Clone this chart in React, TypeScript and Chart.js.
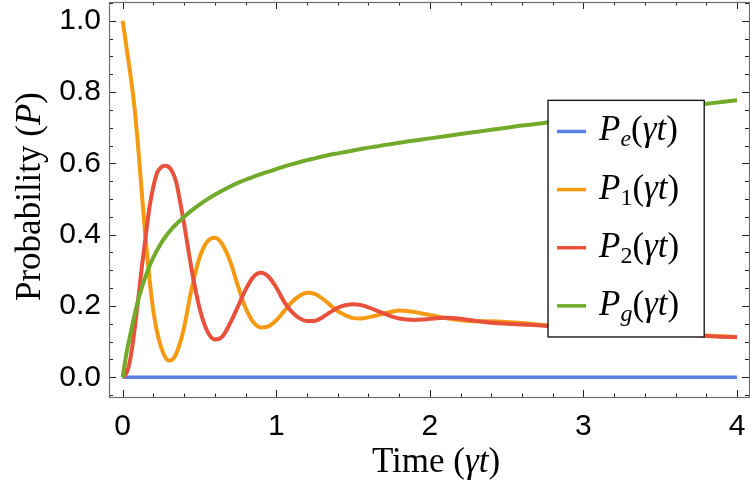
import { useEffect, useRef } from "react"
import { Chart, registerables } from "chart.js"

Chart.register(...registerables)

// time samples (γt) and the probabilities
const times = [
    0, 0.025, 0.05, 0.075, 0.1, 0.125, 0.15, 0.175, 0.2, 0.225, 0.25, 0.275, 0.3, 0.325, 0.35, 0.375, 0.4,
    0.45, 0.5, 0.55, 0.6, 0.65, 0.7, 0.75, 0.8, 0.85, 0.9, 0.95, 1.0,
    1.05, 1.1, 1.15, 1.2, 1.25, 1.3, 1.35, 1.4, 1.45, 1.5,
    1.55, 1.6, 1.65, 1.7, 1.75, 1.8, 1.85, 1.9, 1.95, 2.0,
    2.1, 2.2, 2.3, 2.4, 2.5, 2.6, 2.7, 2.8, 2.9, 3.0,
    3.1, 3.2, 3.3, 3.4, 3.5, 3.6, 3.7, 3.8, 3.9, 4.0,
]
const p1Values = [
    1.0, 0.925, 0.85, 0.765, 0.65, 0.515, 0.385, 0.275, 0.185, 0.125, 0.085, 0.058, 0.047, 0.05, 0.068, 0.098, 0.14,
    0.25, 0.335, 0.38, 0.391, 0.372, 0.325, 0.257, 0.195, 0.155, 0.14, 0.143, 0.16,
    0.185, 0.21, 0.228, 0.237, 0.234, 0.221, 0.203, 0.186, 0.174, 0.166,
    0.165, 0.168, 0.173, 0.179, 0.184, 0.187, 0.186, 0.183, 0.179, 0.175,
    0.166, 0.16, 0.157, 0.157, 0.155, 0.152, 0.148, 0.144, 0.141, 0.138,
    0.135, 0.132, 0.129, 0.127, 0.124, 0.122, 0.12, 0.117, 0.115, 0.113,
]
const p2Values = [
    0, 0.012, 0.052, 0.125, 0.215, 0.31, 0.395, 0.478, 0.535, 0.574, 0.589, 0.593, 0.59, 0.575, 0.545, 0.49, 0.43,
    0.3, 0.195, 0.13, 0.106, 0.115, 0.152, 0.198, 0.245, 0.281, 0.293, 0.282, 0.252,
    0.213, 0.184, 0.166, 0.158, 0.158, 0.168, 0.182, 0.195, 0.202, 0.205,
    0.203, 0.196, 0.188, 0.179, 0.171, 0.165, 0.162, 0.161, 0.162, 0.164,
    0.167, 0.164, 0.158, 0.153, 0.15, 0.148, 0.146, 0.143, 0.14, 0.137,
    0.134, 0.131, 0.128, 0.126, 0.123, 0.121, 0.119, 0.116, 0.114, 0.112,
]
const pgValues = [
    0, 0.068, 0.12, 0.17, 0.215, 0.252, 0.284, 0.312, 0.336, 0.357, 0.376, 0.392, 0.406, 0.419, 0.43, 0.44, 0.45,
    0.468, 0.484, 0.499, 0.512, 0.524, 0.535, 0.545, 0.554, 0.562, 0.57, 0.577, 0.584,
    0.591, 0.597, 0.603, 0.609, 0.614, 0.619, 0.624, 0.628, 0.632, 0.636,
    0.64, 0.644, 0.647, 0.651, 0.654, 0.658, 0.661, 0.664, 0.667, 0.67,
    0.676, 0.682, 0.688, 0.694, 0.7, 0.706, 0.711, 0.717, 0.722, 0.727,
    0.732, 0.737, 0.742, 0.747, 0.752, 0.757, 0.762, 0.767, 0.772, 0.777,
]
const peTimes = [0, 4]
const peValues = [0, 0]

// legend labels as base_sub(rest)
const seriesLabels = ["P_e(γt)", "P_1(γt)", "P_2(γt)", "P_g(γt)"]

const COLORS = ["#5b7fe3", "#f59a12", "#e8523c", "#72aa2c"]
const SERIF = "'Liberation Serif', 'DejaVu Serif', serif"
const SANS = "'Liberation Sans', Arial, sans-serif"

type Part = { text: string; font: string; dy?: number }

const drawParts = (ctx: CanvasRenderingContext2D, parts: Part[], x: number, y: number, center: boolean) => {
    let w = 0
    for (const p of parts) {
        ctx.font = p.font
        w += ctx.measureText(p.text).width
    }
    let cx = center ? x - w / 2 : x
    for (const p of parts) {
        ctx.font = p.font
        ctx.fillText(p.text, cx, y + (p.dy ?? 0))
        cx += ctx.measureText(p.text).width
    }
}

const isMultiple = (v: number, step: number) => Math.abs(v / step - Math.round(v / step)) < 1e-6

// ticks on every multiple of step inside the axis range
const stepTicks = (step: number) => (scale: any) => {
    const ticks = []
    for (let k = Math.ceil(scale.min / step - 1e-9); k * step <= scale.max + 1e-9; k++)
        ticks.push({ value: Math.round(k * step * 1e6) / 1e6 })
    scale.ticks = ticks
}

const framePlugin = {
    id: "mmaFrame",
    beforeDatasetsDraw(chart: any) {
        const { ctx, chartArea: a, scales } = chart
        const x = scales.x, y = scales.y
        ctx.save()
        ctx.strokeStyle = "#222"
        ctx.lineWidth = 1
        ctx.beginPath()
        for (const t of x.ticks) {
            const px = Math.round(x.getPixelForValue(t.value)) + 0.5
            const len = isMultiple(t.value, 1) ? 7 : 3.5
            ctx.moveTo(px, a.bottom); ctx.lineTo(px, a.bottom - len)
            ctx.moveTo(px, a.top); ctx.lineTo(px, a.top + len)
        }
        for (const t of y.ticks) {
            const py = Math.round(y.getPixelForValue(t.value)) + 0.5
            const len = isMultiple(t.value, 0.2) ? 7 : 4
            ctx.moveTo(a.left, py); ctx.lineTo(a.left + len, py)
            ctx.moveTo(a.right, py); ctx.lineTo(a.right - len, py)
        }
        ctx.stroke()
        ctx.strokeStyle = "#6e6e6e"
        ctx.lineWidth = 1.2
        ctx.strokeRect(a.left + 0.5, a.top + 0.5, a.right - a.left, a.bottom - a.top)

        // axis titles
        ctx.fillStyle = "#000"
        ctx.textBaseline = "alphabetic"
        ctx.textAlign = "left"
        drawParts(ctx, [
            { text: "Time (", font: `35px ${SERIF}` },
            { text: "γt", font: `italic 35px ${SERIF}` },
            { text: ")", font: `35px ${SERIF}` },
        ], (a.left + a.right) / 2 + 7, 472, true)
        ctx.translate(40, (a.top + a.bottom) / 2 - 3)
        ctx.rotate(-Math.PI / 2)
        drawParts(ctx, [
            { text: "Probability (", font: `35px ${SERIF}` },
            { text: "P", font: `italic 35px ${SERIF}` },
            { text: ")", font: `35px ${SERIF}` },
        ], 0, 0, true)
        ctx.restore()
    },
    afterDatasetsDraw(chart: any) {
        const { ctx, chartArea: a } = chart
        const w = a.right - a.left, h = a.bottom - a.top
        const left = a.left + 0.686 * w, right = a.left + 0.93 * w
        const top = a.top + 0.249 * h, bottom = a.top + 0.848 * h
        ctx.save()
        ctx.fillStyle = "#fff"
        ctx.fillRect(left, top, right - left, bottom - top)
        ctx.strokeStyle = "#1c1c1c"
        ctx.lineWidth = 1.4
        ctx.strokeRect(left, top, right - left, bottom - top)
        const gap = (bottom - top) / 4.07
        chart.data.datasets.forEach((ds: any, i: number) => {
            const cy = (top + bottom) / 2 + (i - 1.5) * gap
            ctx.strokeStyle = ds.borderColor
            ctx.lineWidth = 3.5
            ctx.beginPath()
            ctx.moveTo(left + 9, cy); ctx.lineTo(left + 38, cy)
            ctx.stroke()
            const [base, restAll] = ds.label.split("_")
            const sub = restAll.slice(0, 1)
            const rest = restAll.slice(1)
            ctx.fillStyle = "#000"
            ctx.textBaseline = "alphabetic"
            ctx.textAlign = "left"
            const subItalic = isNaN(Number(sub))
            drawParts(ctx, [
                { text: base, font: `italic 35px ${SERIF}` },
                { text: sub, font: `${subItalic ? "italic " : ""}24px ${SERIF}`, dy: 6 },
                { text: rest.slice(0, 1), font: `35px ${SERIF}` },
                { text: rest.slice(1, -1), font: `italic 35px ${SERIF}` },
                { text: rest.slice(-1), font: `35px ${SERIF}` },
            ], left + 51, cy + 9, false)
        })
        ctx.restore()
    },
}

const toPoints = (xs: number[], ys: number[]) => xs.map((t, i) => ({ x: t, y: ys[i] }))

const ProbabilityChart = () => {
    const chartRef = useRef<HTMLCanvasElement>(null)
    useEffect(() => {
        if (!chartRef.current)
            return
        const lineStyle = { pointRadius: 0, borderWidth: 4, fill: false, cubicInterpolationMode: "monotone" as const }
        const chart = new Chart(chartRef.current, {
            type: "line",
            plugins: [framePlugin],
            data: {
                datasets: [
                    { label: seriesLabels[0], data: toPoints(peTimes, peValues), borderColor: COLORS[0], order: 4, ...lineStyle, borderWidth: 3.5 },
                    { label: seriesLabels[1], data: toPoints(times, p1Values), borderColor: COLORS[1], order: 3, ...lineStyle },
                    { label: seriesLabels[2], data: toPoints(times, p2Values), borderColor: COLORS[2], order: 2, ...lineStyle },
                    { label: seriesLabels[3], data: toPoints(times, pgValues), borderColor: COLORS[3], order: 1, ...lineStyle },
                ]
            },
            options: {
                animation: false,
                responsive: true,
                maintainAspectRatio: false,
                layout: { padding: { top: 2, right: 1, left: 0, bottom: 0 } },
                plugins: {
                    legend: { display: false },
                    tooltip: { enabled: false },
                },
                scales: {
                    x: {
                        type: "linear",
                        bounds: "data",
                        min: -0.089,
                        max: 4.078,
                        grid: { display: false, drawTicks: false },
                        border: { display: false },
                        afterBuildTicks: stepTicks(0.2),
                        ticks: {
                            autoSkip: false,
                            maxRotation: 0,
                            padding: 12,
                            color: "#000",
                            font: { family: SANS, size: 30 },
                            callback: (v: any) => isMultiple(Number(v), 1) ? String(Math.round(Number(v))) : "",
                        },
                        afterFit: (s: any) => { s.height = 100; s.paddingLeft = 0; s.paddingRight = 0 },
                    },
                    y: {
                        type: "linear",
                        bounds: "data",
                        min: -0.0552,
                        max: 1.0524,
                        grid: { display: false, drawTicks: false },
                        border: { display: false },
                        afterBuildTicks: stepTicks(0.05),
                        ticks: {
                            autoSkip: false,
                            padding: 8,
                            color: "#000",
                            font: { family: SANS, size: 30 },
                            callback: (v: any) => isMultiple(Number(v), 0.2) ? Number(v).toFixed(1) : "",
                        },
                        afterFit: (s: any) => { s.width = 109; s.paddingTop = 0; s.paddingBottom = 0 },
                    },
                },
            },
        })
        return () => {
            chart.destroy()
        }
    }, [])
    return <div style={{ position: "fixed", left: 0, top: 0, width: 750, height: 497, background: "#fff" }}>
        <canvas ref={chartRef} id="probability-chart"></canvas>
    </div>
}

export default function App() {
    return <ProbabilityChart />
}
